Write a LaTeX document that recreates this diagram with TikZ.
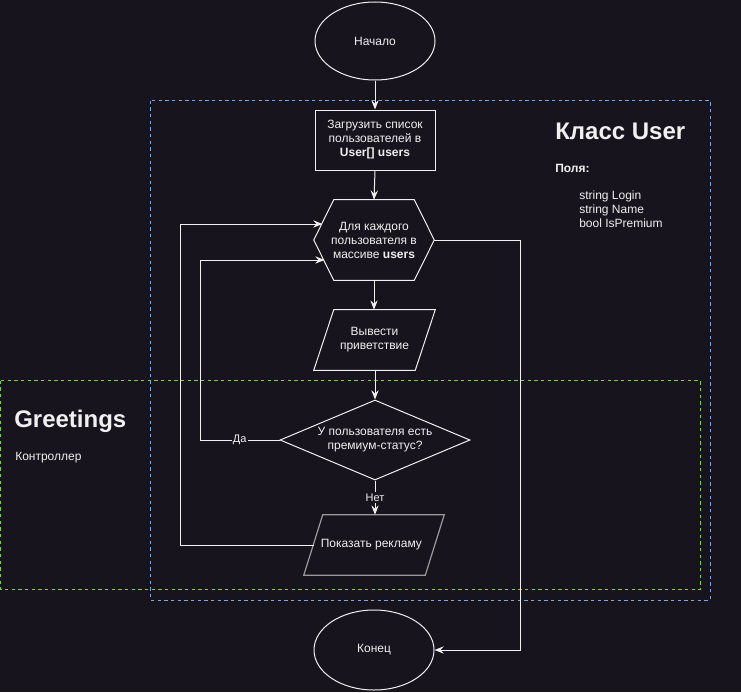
\documentclass[tikz,border=0pt]{standalone}
\usepackage{fontspec}
\setmainfont{Liberation Sans}
\usetikzlibrary{shapes.geometric,arrows.meta,calc}
\definecolor{bg}{HTML}{18141D}
\definecolor{fg}{HTML}{F0F0F0}
\definecolor{bluedash}{HTML}{7EA6E0}
\definecolor{greendash}{HTML}{7FCF3F}
\definecolor{grayline}{HTML}{9A9A9A}
\begin{document}
\begin{tikzpicture}[x=0.75pt,y=-0.75pt,
  every node/.style={font=\fontsize{9pt}{10.5pt}\selectfont, text=fg, align=center, inner sep=0pt},
  shapeline/.style={draw=fg, line width=0.75pt},
  conn/.style={draw=fg, line width=0.75pt, -{Stealth[length=7pt,width=5.5pt,inset=2.5pt]}},
  oval/.style={ellipse, shapeline, minimum width=90pt, minimum height=60pt},
  procbox/.style={rectangle, shapeline, minimum width=90pt, minimum height=45pt},
  ghost/.style={rectangle, minimum width=#1, minimum height=45pt},
  decision/.style={diamond, shapeline, minimum width=142.5pt, minimum height=60pt, aspect=2.375},
  edgelabel/.style={fill=bg, inner sep=1pt, font=\fontsize{8.25pt}{10pt}\selectfont},
  bluebox/.style={draw=bluedash, line width=0.75pt, dash pattern=on 2.5pt off 2.5pt},
  greenbox/.style={draw=greendash, line width=0.75pt, dash pattern=on 2.5pt off 2.5pt},
]
\fill[bg] (0,0) rectangle (741,692);
\useasboundingbox (0,0) rectangle (741,692);

% containers
\draw[greenbox] (0.5,380.5) rectangle (700,589.5);
\draw[bluebox] (150.5,100.5) rectangle (710,600);

% texts in containers
\node[anchor=west, font=\bfseries\fontsize{18pt}{20pt}\selectfont] (classtitle) at (555,131) {Класс User};
\node[anchor=west, font=\bfseries\fontsize{9pt}{10.5pt}\selectfont] (fieldshead) at (555,168) {Поля:};
\node[anchor=north west, align=left] (fields) at (579,191) {string Login\\string Name\\bool IsPremium};
\node[anchor=west, font=\bfseries\fontsize{18pt}{20pt}\selectfont] (greettitle) at (14,421) {Greetings};
\node[anchor=west] (ctrl) at (15,458) {Контроллер};

% nodes
\node[oval, minimum height=58.5pt] (start) at (375,41) {Начало};
\node[procbox] (load) at (375,140) {Загрузить список\\пользователей в\\\textbf{User[] users}};
\node[ghost=90pt, minimum height=60pt] (loop) at (374,240) {Для каждого\\пользователя в\\массиве \textbf{users}};
\draw[shapeline] ([xshift=15pt]loop.north west) -- ([xshift=-15pt]loop.north east) -- (loop.east)
  -- ([xshift=-15pt]loop.south east) -- ([xshift=15pt]loop.south west) -- (loop.west) -- cycle;
\node[ghost=90.75pt] (out) at (374.5,340) {Вывести\\приветствие};
\draw[shapeline] ([xshift=15pt]out.north west) -- (out.north east) -- ([xshift=-15pt]out.south east)
  -- (out.south west) -- cycle;
\node[decision] (dec) at (375,440) {};
\node (dectext) at (375,440) {У пользователя есть\\премиум-статус?};
\node[ghost=105pt, minimum height=45pt] (ad) at (374,545) {\hspace*{-4pt}Показать рекламу};
\draw[draw=grayline, line width=0.9pt] ([xshift=14.25pt]ad.north west) -- (ad.north east) -- ([xshift=-14.25pt]ad.south east)
  -- (ad.south west) -- cycle;
\node[oval] (end) at (374,650) {\raisebox{-1pt}{Конец}};

% helper coordinates
\coordinate (loopinA) at (322.5,224);
\coordinate (loopinB) at (324.5,260);
\coordinate (adleft) at (313.5,545);
\coordinate (yesturn) at (200,440);
\coordinate (adturn) at (180,545);
\coordinate (exitturn) at (520,240);

% connectors
\draw[conn] (start.south) -- (load.north);
\draw[conn] (load.south) -- (loop.north);
\draw[conn] (loop.south) -- (out.north -| loop.south);
\draw[conn] (out.south -| dec.north) -- (dec.north);
\draw[conn] (dec.south) -- node[edgelabel] (nolabel) {Нет} (ad.north -| dec.south);
\draw[conn] (dec.west) -- node[edgelabel] (yeslabel) {Да} (yesturn) |- (loopinB);
\draw[conn] (adleft) -- (adturn) |- (loopinA);
\draw[conn] (loop.east) -- (exitturn) |- (end.east);
\end{tikzpicture}
\end{document}
